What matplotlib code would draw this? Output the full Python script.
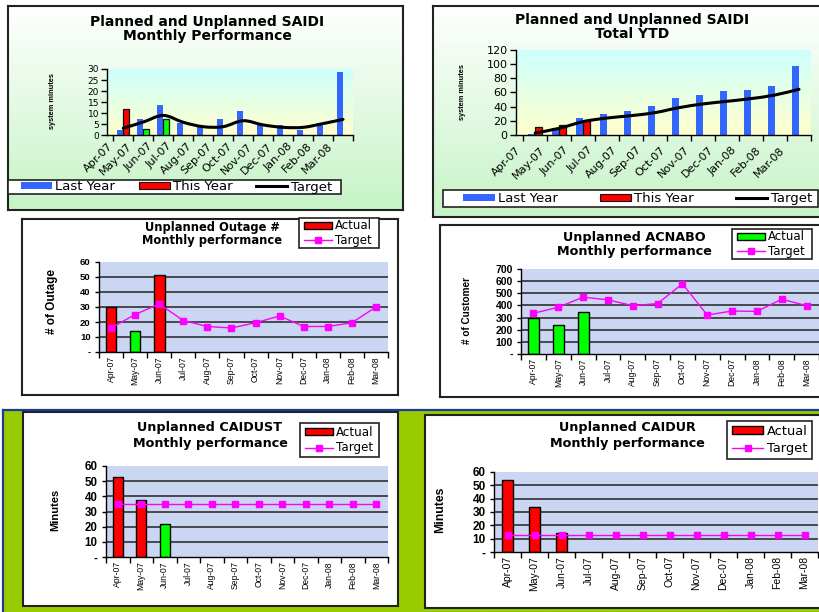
import numpy as np
import matplotlib
matplotlib.use("Agg")
import matplotlib.pyplot as plt
from matplotlib.patches import Rectangle, Patch, PathPatch
from matplotlib.lines import Line2D
from matplotlib.path import Path
from matplotlib.colors import to_rgb

plt.rcParams["font.family"] = ["DejaVu Sans"]

months = ["Apr-07", "May-07", "Jun-07", "Jul-07", "Aug-07", "Sep-07",
          "Oct-07", "Nov-07", "Dec-07", "Jan-08", "Feb-08", "Mar-08"]

# Planned and unplanned SAIDI, monthly (system minutes)
saidi_last_year = [2.6, 7.4, 13.7, 5.6, 4.1, 7.4, 11.0, 5.0, 4.7, 2.6, 5.6, 28.6]
saidi_this_year = [11.7, 2.7, 7.5]
saidi_target = [3.2, 6.0, 9.0, 5.9, 3.9, 3.9, 6.6, 4.7, 3.6, 3.6, 5.3, 7.2]

# Planned and unplanned SAIDI, year to date
ytd_last_year = [1.4, 9.8, 23.9, 29.6, 33.8, 40.8, 52.1, 56.3, 62.0, 63.4, 69.0, 97.2]
ytd_this_year = [11.7, 14.1, 21.6]
ytd_target = [2.8, 9.4, 18.8, 23.9, 27.2, 31.5, 38.5, 43.7, 47.4, 51.2, 56.3, 64.3]

# Unplanned outage count
outage_actual = [30, 14, 51]
outage_target = [16, 25, 32, 21, 17, 16, 19.5, 24, 17, 17, 19.5, 30]

# Unplanned ACNABO (customers)
acnabo_actual = [300, 235, 350]
acnabo_target = [335, 385, 468, 446, 398, 415, 578, 321, 354, 351, 451, 398]

# Unplanned CAIDUST (minutes)
caidust_actual = [53, 37.5, 22]
caidust_target = [35, 35, 35, 35, 35, 35, 35, 35, 35, 35, 35, 35]

# Unplanned CAIDUR (minutes)
caidur_actual = [54, 34, 14]
caidur_target = [13, 13, 13, 13, 13, 13, 13, 13, 13, 13, 13, 13]

RED, GREEN, BLUE, MAGENTA = "#FF0000", "#00FF00", "#3366FF", "#FF00FF"

W, H = 819, 612
fig = plt.figure(figsize=(W / 100, H / 100), dpi=100)


def frac(x0, y0, x1, y1):
    return [x0 / W, 1 - y1 / H, (x1 - x0) / W, (y1 - y0) / H]


def backdrop(box, top, bottom, border=True, z=0.0):
    ax = fig.add_axes(frac(*box), zorder=z)
    t = np.linspace(0, 1, 200)[:, None, None]
    img = (1 - t) * np.array(to_rgb(top)) + t * np.array(to_rgb(bottom))
    ax.imshow(img, aspect="auto", extent=(0, 1, 0, 1), interpolation="bilinear")
    ax.set_xlim(0, 1)
    ax.set_ylim(0, 1)
    ax.set_xticks([])
    ax.set_yticks([])
    for s in ax.spines.values():
        s.set_visible(border)
        s.set_linewidth(1.5)
        s.set_color("#222222")
    return ax


def status_colors(actual, target):
    return [RED if a > t else GREEN for a, t in zip(actual, target)]


def smooth_path(xs, ys):
    pts = np.column_stack([xs, ys]).astype(float)
    n = len(pts)
    verts, codes = [pts[0]], [Path.MOVETO]
    for i in range(n - 1):
        p0, p1 = pts[max(i - 1, 0)], pts[i]
        p2, p3 = pts[i + 1], pts[min(i + 2, n - 1)]
        verts += [p1 + (p2 - p0) / 6, p2 - (p3 - p1) / 6, p2]
        codes += [Path.CURVE4] * 3
    return Path(verts, codes)


def legend_box(handles, labels, box, fs, ncol, hl, hh, pad_l, pad_r,
               spacing=0.2, textpad=0.25, font="DejaVu Sans"):
    x0, y0, x1, y1 = box
    fig.add_artist(Rectangle((x0 / W, 1 - y1 / H), (x1 - x0) / W, (y1 - y0) / H,
                             transform=fig.transFigure, facecolor="white",
                             edgecolor="#222222", lw=1.2, zorder=5))
    if ncol > 1:
        lg = fig.legend(handles, labels, loc="center", ncol=ncol, mode="expand",
                        bbox_to_anchor=((x0 + pad_l) / W, 1 - y1 / H,
                                        (x1 - x0 - pad_l - pad_r) / W, (y1 - y0) / H),
                        frameon=False, borderpad=0, borderaxespad=0,
                        handlelength=hl, handleheight=hh, handletextpad=textpad,
                        columnspacing=0, prop={"family": font, "size": fs})
    else:
        lg = fig.legend(handles, labels, loc="center left",
                        bbox_to_anchor=((x0 + pad_l) / W, 1 - (y0 + y1) / 2 / H),
                        frameon=False, borderpad=0, borderaxespad=0,
                        handlelength=hl, handleheight=hh, handletextpad=textpad,
                        labelspacing=spacing, prop={"family": font, "size": fs})
    lg.set_zorder(6)
    return lg


def title(x, y1, y2, line1, line2, fs):
    fig.text(x / W, 1 - y1 / H, line1, ha="center", va="center",
             fontsize=fs, fontweight="bold", zorder=7)
    fig.text(x / W, 1 - y2 / H, line2, ha="center", va="center",
             fontsize=fs, fontweight="bold", zorder=7)


def ylabel(x, y, text, fs, family="Liberation Sans"):
    fig.text(x / W, 1 - y / H, text, ha="center", va="center", rotation=90,
             fontsize=fs, fontweight="bold", family=family, zorder=7)


# ---- page background ------------------------------------------------------
backdrop((3, 410, 830, 620), "#99CC00", "#99CC00", border=False, z=0)
fig.add_artist(Line2D([3 / W, 1.0], [1 - 410 / H] * 2, color="#1C3C9C", lw=1.6, zorder=0.5))
fig.add_artist(Line2D([3 / W] * 2, [1 - 410 / H, 0.0], color="#1C3C9C", lw=1.6, zorder=0.5))

backdrop((8, 6, 403, 210), "#FFFFFF", "#C6F4C6", z=1)
backdrop((433, 6, 830, 217), "#FFFFFF", "#C6F4C6", z=1)
backdrop((22, 219, 398, 395), "#FFFFFF", "#FFFFFF", z=1)
backdrop((440, 225, 830, 397), "#FFFFFF", "#FFFFFF", z=1)
backdrop((23, 412, 398, 606), "#FFFFFF", "#FFFFFF", z=1)
backdrop((425, 415, 830, 608), "#FFFFFF", "#FFFFFF", z=1)


# ---- SAIDI charts ---------------------------------------------------------
def saidi_chart(box, last, this, target, ymax, ystep, fs_y, lab_pad):
    backdrop(box, "#CCFFFF", "#FFFFCC", border=False, z=2)
    ax = fig.add_axes(frac(*box), zorder=3)
    ax.patch.set_visible(False)
    x = np.arange(len(months))
    ax.bar(x - 0.145, last, width=0.29, color=BLUE, zorder=2)
    ax.bar(x[:len(this)] + 0.145, this, width=0.29,
           color=status_colors(this, target), edgecolor="#111111", lw=0.9, zorder=3)
    ax.add_patch(PathPatch(smooth_path(x, target), fill=False, edgecolor="black",
                           lw=2.2, zorder=4, capstyle="round", joinstyle="round"))
    ax.set_xlim(-0.5, len(months) - 0.5)
    ax.set_ylim(0, ymax)
    ax.set_yticks(np.arange(0, ymax + 1, ystep))
    ax.tick_params(axis="y", length=4, width=1, labelsize=fs_y, pad=2)
    ax.set_xticks(np.arange(len(months) + 1) - 0.5, minor=True)
    ax.set_xticks(x - 0.8, months)
    ax.tick_params(axis="x", which="major", length=0, labelsize=8, pad=lab_pad)
    ax.tick_params(axis="x", which="minor", length=4, width=1)
    plt.setp(ax.get_xticklabels(), rotation=45, ha="right", va="top",
             rotation_mode="anchor")
    for s in ("top", "right"):
        ax.spines[s].set_visible(False)
    for s in ("left", "bottom"):
        ax.spines[s].set_linewidth(1.0)
    return ax


saidi_chart((107.3, 69, 353, 135.3), saidi_last_year, saidi_this_year,
            saidi_target, 30, 5, 6.5, 4)
title(207, 22, 36, "Planned and Unplanned SAIDI", "Monthly Performance", 10)
ylabel(52, 101, "system minutes", 5.3)

saidi_chart((516, 49.7, 811, 135), ytd_last_year, ytd_this_year,
            ytd_target, 120, 20, 8, 7)
title(632, 20, 34, "Planned and Unplanned SAIDI", "Total YTD", 10)
ylabel(462, 92, "system minutes", 5.3)

saidi_handles = [Patch(facecolor=BLUE), Patch(facecolor=RED, edgecolor="#111111", lw=0.8),
                 Line2D([], [], color="black", lw=2.2)]
saidi_labels = ["Last Year", "This Year", "Target"]
legend_box(saidi_handles, saidi_labels, (8, 180, 341, 194), 9.5, 3, 2.35, 0.43, 13, 9)
legend_box(saidi_handles, saidi_labels, (443, 190, 818, 207), 9.5, 3, 2.4, 0.43, 20, 6)


# ---- monthly performance charts ------------------------------------------
def monthly_chart(box, actual, target, ymax, ystep, fs_y, fs_x, ms):
    ax = fig.add_axes(frac(*box), zorder=3)
    ax.set_facecolor("#CAD6F2")
    x = np.arange(len(months))
    for gy in np.arange(ystep, ymax, ystep):
        ax.axhline(gy, color="#222222", lw=1.1, zorder=1)
    ax.bar(x[:len(actual)], actual, width=0.44,
           color=status_colors(actual, target), edgecolor="black", lw=1.0, zorder=2)
    ax.plot(x, target, color=MAGENTA, lw=1.0, marker="s", ms=ms, zorder=3)
    ax.set_xlim(-0.5, len(months) - 0.5)
    ax.set_ylim(0, ymax)
    ticks = np.arange(0, ymax + 1, ystep)
    ax.set_yticks(ticks, ["-"] + [str(int(t)) for t in ticks[1:]])
    ax.tick_params(axis="y", length=3, width=1, pad=3)
    for lab in ax.get_yticklabels():
        lab.set_fontfamily("Liberation Sans")
        lab.set_fontweight("bold")
        lab.set_fontsize(fs_y)
    ax.set_xticks(np.arange(len(months) + 1) - 0.5, minor=True)
    ax.set_xticks(x, months)
    ax.tick_params(axis="x", which="major", length=0, pad=3)
    ax.tick_params(axis="x", which="minor", length=4, width=1)
    for lab in ax.get_xticklabels():
        lab.set_fontfamily("Liberation Sans")
        lab.set_fontsize(fs_x)
        lab.set_rotation(90)
    for s in ("top", "right"):
        ax.spines[s].set_visible(False)
    for s in ("left", "bottom"):
        ax.spines[s].set_linewidth(1.0)
    return ax


def monthly_legend(box, actual_color, fs, hl, pad_l, spacing, ms):
    handles = [Patch(facecolor=actual_color, edgecolor="black", lw=1.0),
               Line2D([], [], color=MAGENTA, lw=1.0, marker="s", ms=ms)]
    legend_box(handles, ["Actual", "Target"], box, fs, 1, hl, 0.5, pad_l, 0,
               spacing=spacing)


monthly_chart((99, 262, 388, 352), outage_actual, outage_target, 60, 10, 6.8, 6.2, 4)
title(212, 228, 241, "Unplanned Outage #", "Monthly performance", 8.3)
ylabel(52, 302, "# of Outage", 8.5)
monthly_legend((299, 218, 379, 248), RED, 8.5, 2.35, 5, 0.1, 4)

monthly_chart((521, 269, 819, 354), acnabo_actual, acnabo_target, 700, 100, 7.5, 6.2, 4)
title(634, 238, 252, "Unplanned ACNABO", "Monthly performance", 9.2)
ylabel(467, 310, "# of Customer", 7.2)
monthly_legend((732, 229, 812, 259), GREEN, 8.5, 2.35, 5, 0.1, 4)

monthly_chart((106, 466, 388, 557), caidust_actual, caidust_target, 60, 10, 8.3, 6.2, 4)
title(210, 428, 444, "Unplanned CAIDUST", "Monthly performance", 9.2)
ylabel(55, 510, "Minutes", 8)
monthly_legend((300, 423, 379, 457), RED, 8.6, 2.35, 5, 0.25, 4)

monthly_chart((494, 472, 818, 552), caidur_actual, caidur_target, 60, 10, 8.5, 7.5, 4.4)
title(627, 428, 444, "Unplanned CAIDUR", "Monthly performance", 9.2)
ylabel(440, 510, "Minutes", 8.8)
monthly_legend((727, 421, 812, 459), RED, 9.4, 2.4, 5, 0.35, 4.4)

fig.savefig("out.png", dpi=100)
